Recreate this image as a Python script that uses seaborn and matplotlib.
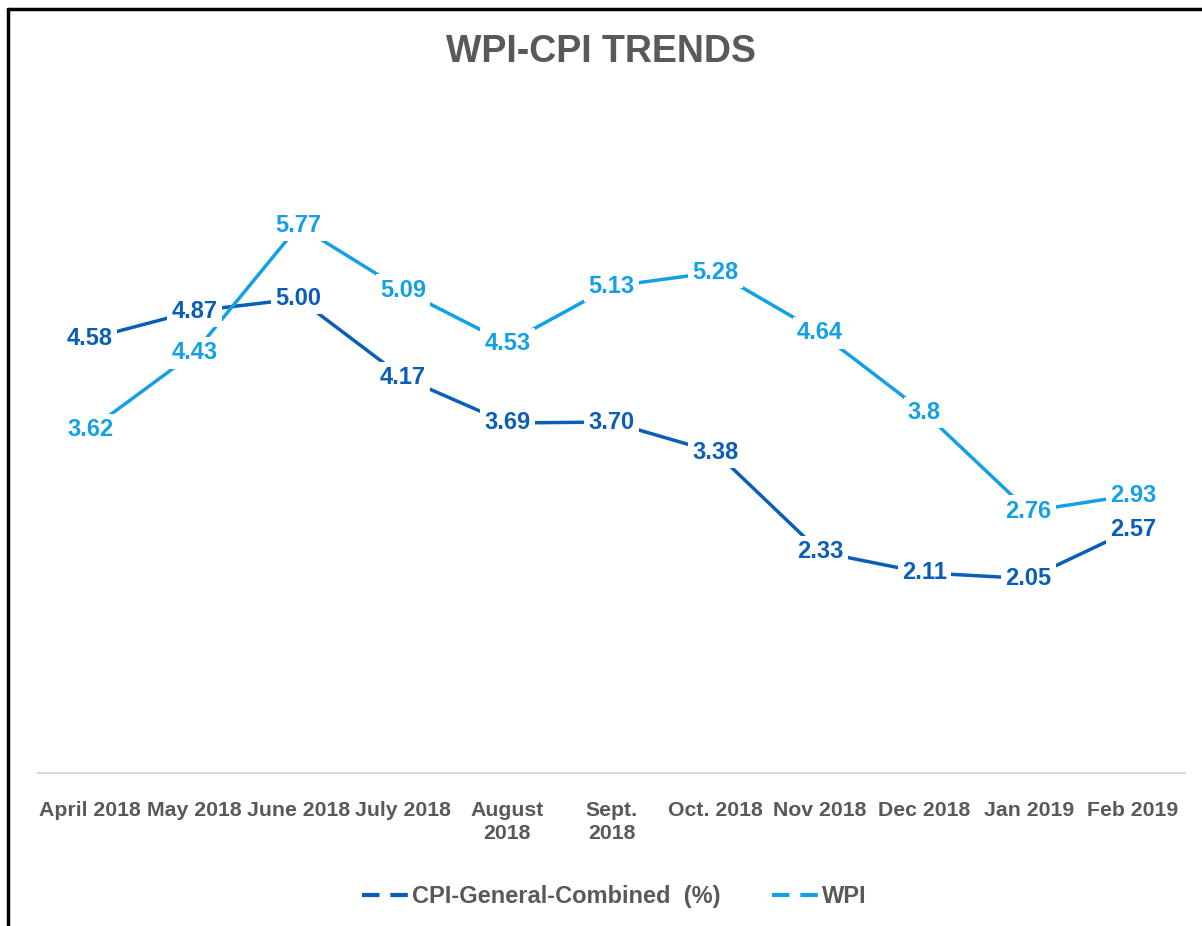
import matplotlib
matplotlib.use('Agg')
import matplotlib.pyplot as plt
import seaborn as sns
import pandas as pd
from matplotlib.lines import Line2D

sns.set_style('white')
plt.rcParams['font.family'] = ['Liberation Sans', 'DejaVu Sans']

# Datos
meses = ['April 2018', 'May 2018', 'June 2018', 'July 2018', 'August\n2018', 'Sept.\n2018',
         'Oct. 2018', 'Nov 2018', 'Dec 2018', 'Jan 2019', 'Feb 2019']
cpi = [4.58, 4.87, 5.00, 4.17, 3.69, 3.70, 3.38, 2.33, 2.11, 2.05, 2.57]
wpi = [3.62, 4.43, 5.77, 5.09, 4.53, 5.13, 5.28, 4.64, 3.8, 2.76, 2.93]
cpi_txt = ['4.58', '4.87', '5.00', '4.17', '3.69', '3.70', '3.38', '2.33', '2.11', '2.05', '2.57']
wpi_txt = ['3.62', '4.43', '5.77', '5.09', '4.53', '5.13', '5.28', '4.64', '3.8', '2.76', '2.93']

color_cpi = '#0A5EB8'
color_wpi = '#14A0E4'
gris = '#595959'

df = pd.DataFrame({'Mes': list(range(len(meses))) * 2,
                   'Valor': cpi + wpi,
                   'Serie': ['CPI'] * len(cpi) + ['WPI'] * len(wpi)})

fig = plt.figure(figsize=(12.02, 9.26), dpi=100)
ax = fig.add_axes([0.0316, 0.1652, 0.9543, 0.7171])

sns.lineplot(data=df, x='Mes', y='Valor', hue='Serie',
             palette={'CPI': color_cpi, 'WPI': color_wpi},
             linewidth=2.5, legend=False, ax=ax)

# Etiquetas de datos sobre cada punto (fondo blanco tapa la línea)
for i in range(len(meses)):
    ax.text(i, wpi[i], wpi_txt[i], ha='center', va='center', fontsize=17,
            fontweight='bold', color=color_wpi,
            bbox=dict(boxstyle='square,pad=0.18', fc='white', ec='none'))
    ax.text(i, cpi[i], cpi_txt[i], ha='center', va='center', fontsize=17,
            fontweight='bold', color=color_cpi,
            bbox=dict(boxstyle='square,pad=0.18', fc='white', ec='none'))

ax.set_xlim(-0.5, len(meses) - 0.5)
ax.set_ylim(0, 7)
ax.set_xticks(range(len(meses)))
ax.set_xticklabels(meses, fontsize=15.3, fontweight='bold', color=gris,
                   linespacing=1.25)
ax.set_yticks([])
ax.set_xlabel('')
ax.set_ylabel('')
ax.tick_params(axis='x', length=0, pad=20)
for s in ['top', 'right', 'left']:
    ax.spines[s].set_visible(False)
ax.spines['bottom'].set_color('#D9D9D9')
ax.spines['bottom'].set_linewidth(1.5)

fig.text(0.5, 0.944, 'WPI-CPI TRENDS', ha='center', va='center', fontsize=27,
         fontweight='bold', color=gris)

handles = [Line2D([], [], color=color_cpi, lw=3, linestyle=(0, (4.2, 2.6))),
           Line2D([], [], color=color_wpi, lw=3, linestyle=(0, (4.2, 2.6)))]
fig.legend(handles, ['CPI-General-Combined  (%)', 'WPI'], loc='center',
           bbox_to_anchor=(0.511, 0.032), ncol=2, frameon=False,
           prop={'size': 17, 'weight': 'bold'}, labelcolor=gris,
           handlelength=2.0, handletextpad=0.1, columnspacing=2.2)

# Marco negro arriba e izquierda
fig.add_artist(Line2D([8 / 1202, 8 / 1202], [0, 1 - 9 / 926], color='black', lw=2.5,
                      transform=fig.transFigure))
fig.add_artist(Line2D([8 / 1202, 1], [1 - 9 / 926, 1 - 9 / 926], color='black', lw=2.5,
                      transform=fig.transFigure))

fig.savefig('out.png', dpi=100)
